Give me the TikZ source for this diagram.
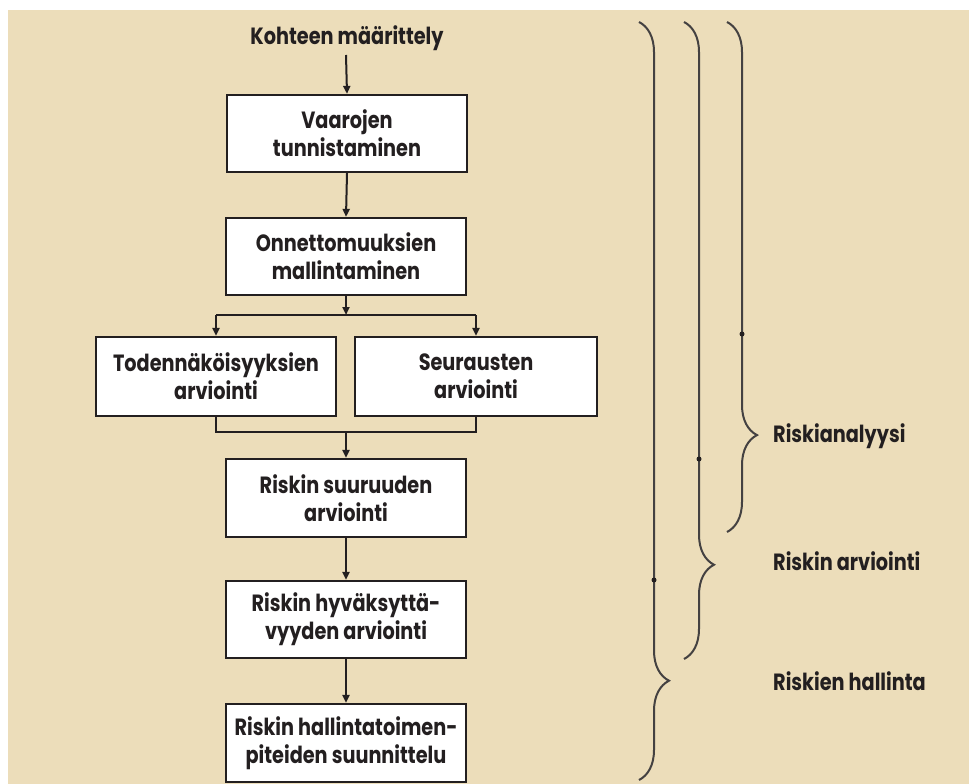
\documentclass[tikz,border=0pt]{standalone}
\usepackage{fontspec}
\setmainfont{Poppins}[FakeStretch=0.82]
\usetikzlibrary{arrows.meta,decorations.pathreplacing}
\definecolor{bg}{RGB}{236,221,186}
\definecolor{ink}{RGB}{35,31,32}
\tikzset{
  box/.style={draw=ink, line width=2.2pt, fill=white, inner sep=0pt, align=center,
    text=ink, font=\fontsize{23.5}{28}\selectfont\bfseries},
  conn/.style={draw=ink, line width=2pt},
  arr/.style={conn, -{Triangle[length=8pt,width=7pt]}},
  lbl/.style={text=ink, font=\fontsize{23.5}{28}\selectfont\bfseries, anchor=west, inner sep=0pt},
  brc/.style={draw=ink!85, line width=2pt, decorate,
    decoration={brace, amplitude=30pt}},
  dotm/.style={circle, fill=ink, inner sep=0pt, minimum size=5pt}
}
\begin{document}
\begin{tikzpicture}[x=1pt,y=-1pt]
\useasboundingbox (0,0) rectangle (969,784);
\fill[bg] (8,10) rectangle (969,784);

\node[text=ink, font=\fontsize{23.5}{28}\selectfont\bfseries, inner sep=0pt] (k) at (347,38) {Kohteen määrittely};
\node[box, minimum width=240pt, minimum height=77pt] (b1) at (347,133.5) {Vaarojen\\tunnistaminen};
\node[box, minimum width=240pt, minimum height=77pt] (b2) at (346,256.5) {Onnettomuuksien\\mallintaminen};
\node[box, minimum width=240pt, minimum height=79pt] (b3) at (216,376.5) {Todennäköisyyksien\\arviointi};
\node[box, minimum width=242pt, minimum height=79pt] (b4) at (476,376.5) {Seurausten\\arviointi};
\node[box, minimum width=240pt, minimum height=78pt] (b5) at (346,498) {Riskin suuruuden\\arviointi};
\node[box, minimum width=240pt, minimum height=77pt] (b6) at (346,619.5) {Riskin hyväksyttä-\\vyyden arviointi};
\node[box, minimum width=240pt, minimum height=78pt] (b7) at (346,743) {Riskin hallintatoimen-\\piteiden suunnittelu};

\coordinate (s) at (346,315);
\coordinate (m) at (346,432);

\draw[arr] (346,55) -- (b1.north);
\draw[arr] (b1.south) -- (b2.north);
\draw[arr] (b2.south) -- (s);
\draw[conn] (s -| b3.north) -- (s -| b4.north);
\draw[arr] (s -| b3.north) -- (b3.north);
\draw[arr] (s -| b4.north) -- (b4.north);
\draw[conn] (b3.south) -- (m -| b3.south) -- (m -| b4.south) -- (b4.south);
\draw[arr] (m) -- (b5.north);
\draw[arr] (b5.south) -- (b6.north);
\draw[arr] (b6.south) -- (b7.north);

% braces
\coordinate (h1t) at (639,22); \coordinate (h1b) at (639,780);
\coordinate (h2t) at (684,22); \coordinate (h2b) at (684,659);
\coordinate (h3t) at (727,22); \coordinate (h3b) at (727,532);
\draw[brc, decoration={aspect=0.869}] (h1t) -- (h1b);
\draw[brc, decoration={aspect=0.852}] (h2t) -- (h2b);
\draw[brc, decoration={aspect=0.81}] (h3t) -- (h3b);
\node[dotm] (d1) at (654,580) {};
\node[dotm] (d2) at (699,459) {};
\node[dotm] (d3) at (742,334) {};

\node[lbl] (l1) at (773,436) {Riskianalyysi};
\node[lbl] (l2) at (773,561) {Riskin arviointi};
\node[lbl] (l3) at (773,681) {Riskien hallinta};
\end{tikzpicture}
\end{document}
